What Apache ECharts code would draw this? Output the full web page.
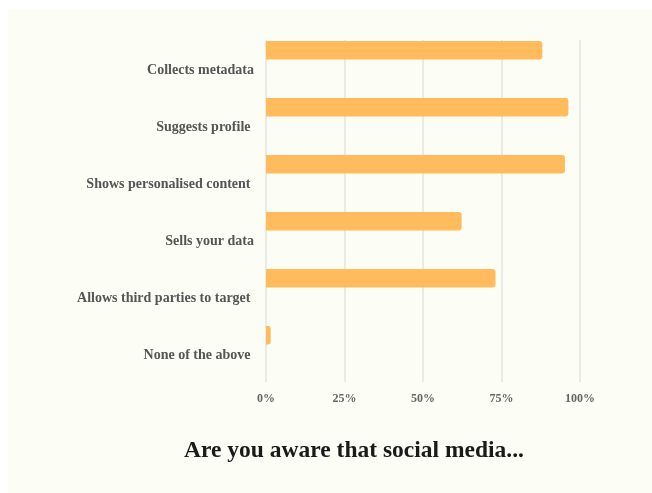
<!DOCTYPE html>
<html>
<head>
<meta charset="utf-8">
<script src="https://cdn.jsdelivr.net/npm/echarts@6/dist/echarts.min.js"></script>
<style>
  html, body { margin: 0; padding: 0; background: #ffffff; overflow: hidden; }
  #frame { position: absolute; left: 8px; top: 9px; width: 644px; height: 484px; background: #fcfdf4; }
  #chart { position: absolute; left: 0; top: 0; width: 652px; height: 493px; }
</style>
</head>
<body>
<div id="frame"></div>
<div id="chart"></div>
<script>
// Survey answers, percent of respondents aware of each practice
const categories = [
  'Collects metadata',
  'Suggests profile ',
  'Shows personalised content ',
  'Sells your data',
  'Allows third parties to target ',
  'None of the above '
];
const awareShare = [88, 96.3, 95.2, 62.3, 73.1, 1.5];
const tickValues = [0, 25, 50, 75, 100];
const emptySlot = categories.map(() => '-');

const serif = '"Liberation Serif", "DejaVu Serif", serif';
const chart = echarts.init(document.getElementById('chart'), null, { renderer: 'canvas' });

chart.setOption({
  backgroundColor: 'transparent',
  animation: false,
  title: {
    text: 'Are you aware that social media...',
    left: 349,
    top: 434,
    textAlign: 'center',
    textStyle: { fontFamily: serif, fontSize: 23.5, fontWeight: 'bold', color: '#1a1a1a' }
  },
  grid: { left: 266, right: 72, top: 40, bottom: 111, containLabel: false },
  xAxis: {
    type: 'value',
    min: tickValues[0],
    max: tickValues[tickValues.length - 1],
    interval: 25,
    axisLine: { show: false },
    axisTick: { show: false },
    splitLine: { show: true, lineStyle: { color: '#e4e4dc', width: 1.5 } },
    axisLabel: {
      formatter: v => v + '%',
      margin: 11,
      fontFamily: serif,
      fontSize: 12,
      fontWeight: 'bold',
      color: '#666666'
    }
  },
  yAxis: {
    type: 'category',
    data: categories,
    inverse: true,
    axisLine: { show: false },
    axisTick: { show: false },
    splitLine: { show: false },
    axisLabel: {
      margin: 12,
      formatter: v => '{t|' + v + '}',
      rich: {
        t: {
          padding: [4, 0, 0, 0],
          fontFamily: serif,
          fontSize: 14,
          fontWeight: 'bold',
          color: '#555555'
        }
      }
    }
  },
  series: [
    {
      type: 'bar',
      data: awareShare,
      barWidth: 18.5,
      barGap: '97%',
      itemStyle: { color: '#ffbb5c', borderRadius: [0, 3, 3, 0] }
    },
    {
      type: 'bar',
      data: emptySlot,
      barWidth: 18.5,
      silent: true
    }
  ]
});
</script>
</body>
</html>
